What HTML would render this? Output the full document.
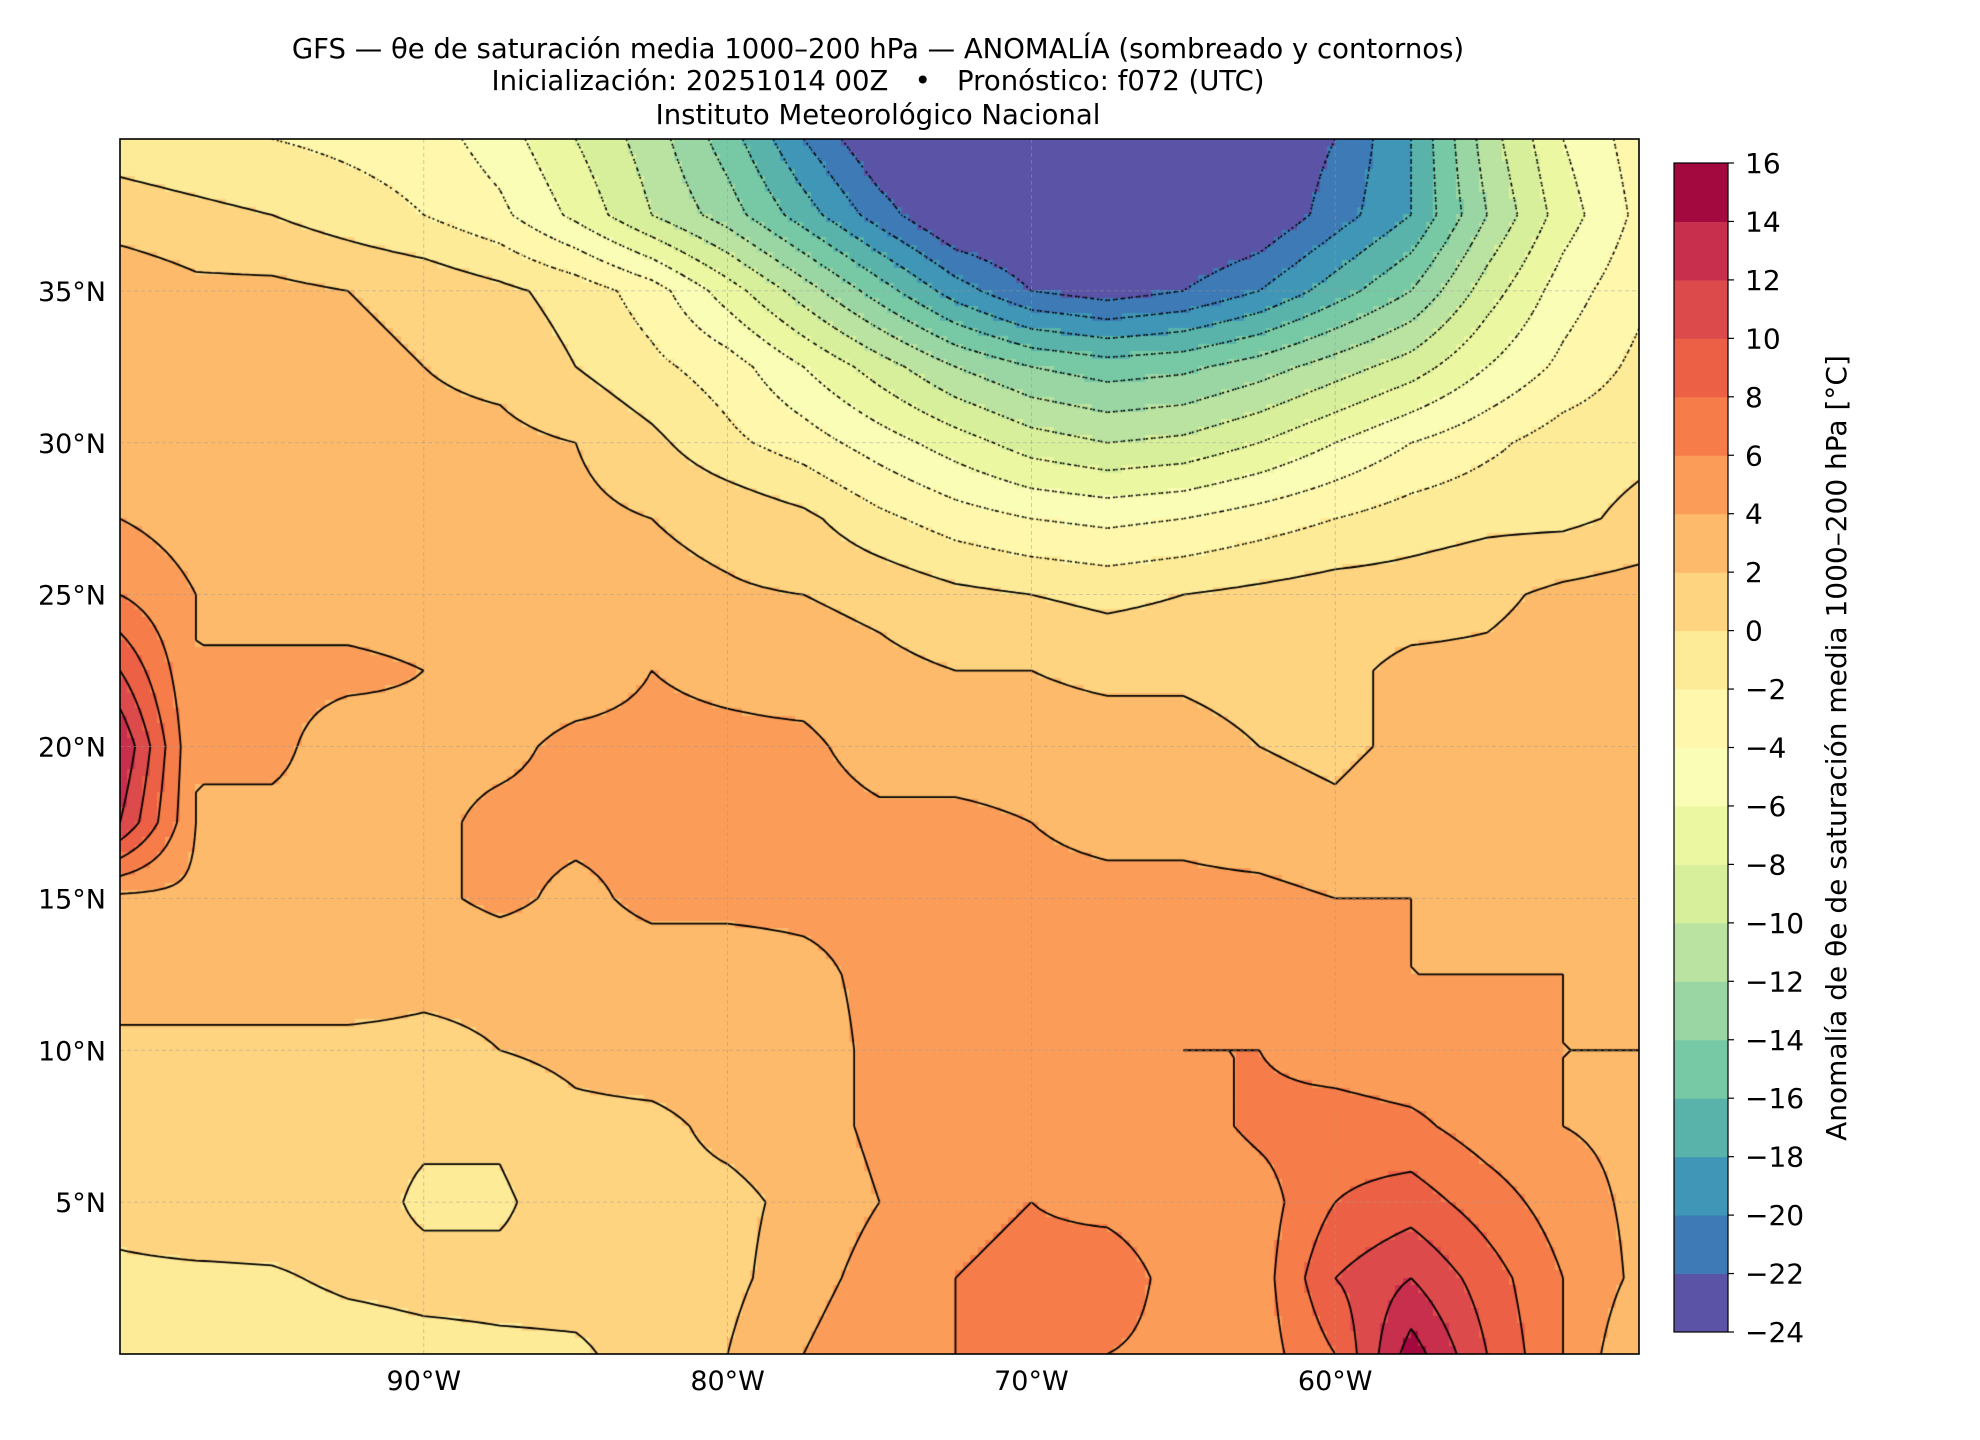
<!DOCTYPE html>
<html><head><meta charset="utf-8"><style>
body{margin:0;background:#fff;width:1980px;height:1440px;position:relative;overflow:hidden;font-family:"DejaVu Sans","Liberation Sans",sans-serif;}
.t{position:absolute;left:0;width:1756px;text-align:center;font-size:27.5px;color:#000;line-height:32px;}
</style></head><body>
<div class="t" style="top:33px">GFS — θe de saturación media 1000–200 hPa — ANOMALÍA (sombreado y contornos)</div>
<div class="t" style="top:65px">Inicialización: 20251014 00Z &nbsp; • &nbsp; Pronóstico: f072 (UTC)</div>
<div class="t" style="top:99px">Instituto Meteorológico Nacional</div>
<canvas id="map" width="1519" height="1215" style="position:absolute;left:120px;top:139px"></canvas>
<svg id="ov" width="1980" height="1440" style="position:absolute;left:0;top:0"></svg>
<script>
const lons=[-100,-97.5,-95,-92.5,-90,-87.5,-85,-82.5,-80,-77.5,-75,-72.5,-70,-67.5,-65,-62.5,-60,-57.5,-55,-52.5,-50];
const lats=[40,37.5,35,32.5,30,27.5,25,22.5,20,17.5,15,12.5,10,7.5,5,2.5,0];
const row40=[-1,-1.5,-2,-2.5,-3,-5,-8,-11,-15,-20,-24,-25,-25.5,-26,-25,-24,-22,-18,-11,-6,-3];
const row375=[1,0.5,0,-1,-2,-3.5,-6.5,-10,-13,-17,-21,-24.5,-25,-25.5,-25,-24,-21,-18,-12,-7,-3.5];
const row35=[3.5,2.5,2.5,2,1.5,0.5,-0.8,-3,-7,-11,-15,-19,-22,-23,-22,-20,-17,-14,-9,-5,-2.5];
const row325=[3,2.5,2.5,2.5,2,1.5,0,-1.5,-3,-6,-9,-12,-14,-15,-14.5,-13,-11,-9,-6,-3.5,-1.5];
const row30=[3,3,2.5,2.5,2.5,2.5,2,0.5,-1.5,-3,-5,-7,-9,-10,-9.5,-8,-6,-4,-2.5,-1,-0.5];
const row275=[4,3,3,3,3,2.5,2.5,2,1.5,0.5,-1.5,-3,-4,-4.5,-4,-3,-2,-1,-0.5,-0.5,0.5];
const row25=[6,4,3,3,3,2.5,2.5,2.5,2.2,2,1.5,0.5,0,-0.5,0,0.5,1,1,1.5,2.5,3];
const row225=[10,4,4.5,4.5,4,3,3,4,3.5,3,2.5,2,2,1.5,1.5,1,1.5,2.5,2.5,3,3];
const row20=[14,4,4.5,3,3.5,3.5,4.5,4.5,4.5,4.5,3,3,3,3,3,2,1.5,2.5,3,3.5,3.5];
const row175=[12,4,3.5,3.5,3.5,4.5,4.5,4.5,5,5,4.5,4.5,4,3.5,3.5,3,2.5,3.5,3.5,3.5,3.5];
const row15=[3.5,3.5,3.5,3,3.5,4.5,3.5,4.5,4.5,4.5,4.5,4.5,4.5,4.5,4.5,4.5,4,4,3.5,3.5,3.5];
const row125=[3,3,3,3,2.5,2.5,3,3,3,3.5,4.5,4.5,4.5,4.5,4.5,4.5,4.5,4,4,4,3.5];
const row10=[1.5,1.5,1.5,1.5,1.5,2,2.5,3,3,3,4.5,4.5,4.5,5,6,6,5,4.5,4.5,4,4];
const row75=[1,1,1,0.5,0.3,0.3,1.5,1.5,2.5,3,4.5,5,5,6,5,6.5,7,6.5,5,4,3.5];
const row5=[0.5,1,1,0.8,-0.3,-0.3,1,1.5,1.5,2.5,4,5,6,5,4,5,8,9,7,5,3.5];
const row25s=[-0.3,-0.3,-0.2,0.3,0.5,0.5,0.5,0.5,1.5,3,5,6,7,8,4.5,5,10,12,9,6,3.5];
const row0=[-1,-1,-1,-0.8,-0.5,-0.3,-0.2,0.5,2,4,6,6,7,6,5,5,8,15,10,6,2];
const grid=[row40,row375,row35,row325,row30,row275,row25,row225,row20,row175,row15,row125,row10,row75,row5,row25s,row0];
const levels=[-24,-22,-20,-18,-16,-14,-12,-10,-8,-6,-4,-2,0,2,4,6,8,10,12,14,16];
const colors=["#5a53a6","#3d7ab6","#3f96b7","#59b3ab","#77c9a5","#9ad6a4","#bae3a1","#d7ef9b","#ecf7a2","#f9fdb5","#fff8ac","#feeb98","#fed481","#fdba6b","#fb9d59","#f67d4a","#ec6146","#dd4a4c","#c72f4c","#a3083f"];

const L=120,T=139,W=1519,H=1215,lon0=-100,lon1=-50,lat0=0,lat1=40;
const xS=lo=>L+(lo-lon0)/(lon1-lon0)*W;
const yS=la=>T+(lat1-la)/(lat1-lat0)*H;
function field(lo,la){
  let fi=(lo-lons[0])/2.5, fj=(lats[0]-la)/2.5;
  fi=Math.max(0,Math.min(lons.length-1.0001,fi)); fj=Math.max(0,Math.min(lats.length-1.0001,fj));
  const i=Math.floor(fi),j=Math.floor(fj),A=fi-i,B=fj-j;
  return grid[j][i]*(1-A)*(1-B)+grid[j][i+1]*A*(1-B)+grid[j+1][i]*(1-A)*B+grid[j+1][i+1]*A*B;
}
function colorOf(v){let k=Math.floor((v-levels[0])/2);k=Math.max(0,Math.min(colors.length-1,k));return colors[k];}
const cv=document.getElementById('map'),ctx=cv.getContext('2d');
const res=0.25,nx=(lon1-lon0)/res,ny=(lat1-lat0)/res;
const F=[];
for(let j=0;j<=ny;j++){F.push([]);for(let i=0;i<=nx;i++)F[j].push(field(lon0+i*res,lat1-j*res));}
for(let j=0;j<ny;j++)for(let i=0;i<nx;i++){
  const lo=lon0+(i+0.5)*res,la=lat1-(j+0.5)*res;
  ctx.fillStyle=colorOf(field(lo,la));
  const x0=xS(lon0+i*res)-L,y0=yS(lat1-j*res)-T,x1=xS(lon0+(i+1)*res)-L,y1=yS(lat1-(j+1)*res)-T;
  ctx.fillRect(Math.floor(x0),Math.floor(y0),Math.ceil(x1-x0)+1,Math.ceil(y1-y0)+1);
}
ctx.strokeStyle="#000";
for(const lev of levels){
  if(lev<=-24||lev>=16)continue;
  ctx.beginPath();
  for(let j=0;j<ny;j++)for(let i=0;i<nx;i++){
    const c=[[i,j],[i+1,j],[i+1,j+1],[i,j+1]];
    const pts=[];
    for(let e=0;e<4;e++){
      const p=c[e],q=c[(e+1)%4];const va=F[p[1]][p[0]],vb=F[q[1]][q[0]];
      if((va<lev)!==(vb<lev)){const t=(lev-va)/(vb-va);
        const gi=p[0]+t*(q[0]-p[0]),gj=p[1]+t*(q[1]-p[1]);
        pts.push([xS(lon0+gi*res)-L,yS(lat1-gj*res)-T]);}
    }
    for(let k=0;k+1<pts.length;k+=2){ctx.moveTo(pts[k][0],pts[k][1]);ctx.lineTo(pts[k+1][0],pts[k+1][1]);}
  }
  if(lev<0){ctx.setLineDash([2,3]);ctx.lineWidth=1.6;}else{ctx.setLineDash([]);ctx.lineWidth=1.8;}
  ctx.stroke();
}
ctx.setLineDash([]);
const svg=document.getElementById('ov'),NS="http://www.w3.org/2000/svg";
function mk(tag,attrs,txt){const e=document.createElementNS(NS,tag);for(const k in attrs)e.setAttribute(k,attrs[k]);if(txt!==undefined)e.textContent=txt;svg.appendChild(e);return e;}
const FF='DejaVu Sans, Liberation Sans, sans-serif';
const lonTicks=[-90,-80,-70,-60],lonLabels=["90°W","80°W","70°W","60°W"];
const latTicks=[35,30,25,20,15,10,5],latLabels=["35°N","30°N","25°N","20°N","15°N","10°N","5°N"];
lonTicks.forEach((v,k)=>{
  const g=mk('line',{x1:xS(v),x2:xS(v),y1:T,y2:T+H,stroke:"#999",'stroke-width':0.8,'stroke-dasharray':"4,3",opacity:0.6});
  
  const t=mk('text',{x:xS(v),y:1390,'font-size':27,'text-anchor':'middle','font-family':FF},lonLabels[k]);
  
});
latTicks.forEach((v,k)=>{
  const g=mk('line',{x1:L,x2:L+W,y1:yS(v),y2:yS(v),stroke:"#999",'stroke-width':0.8,'stroke-dasharray':"4,3",opacity:0.6});
  
  const t=mk('text',{x:106,y:yS(v)+10,'font-size':27,'text-anchor':'end','font-family':FF},latLabels[k]);
  
});
const fr=mk('rect',{x:L,y:T,width:W,height:H,fill:'none',stroke:'#000','stroke-width':1.6});

const cbX=1674,cbW=54,cbT=163,cbB=1332;
const cbY=v=>cbB-(v-levels[0])/(levels[levels.length-1]-levels[0])*(cbB-cbT);
colors.forEach((c,k)=>{
  const r=mk('rect',{x:cbX,y:cbY(levels[k+1]),width:cbW,height:cbY(levels[k])-cbY(levels[k+1])+0.5,fill:c});
  
});
const cf=mk('rect',{x:cbX,y:cbT,width:cbW,height:cbB-cbT,fill:'none',stroke:'#000','stroke-width':1.2});

levels.forEach(v=>{
  const tk=mk('line',{x1:cbX+cbW,x2:cbX+cbW+6,y1:cbY(v),y2:cbY(v),stroke:'#000','stroke-width':1.2});
  
  const t=mk('text',{x:1745,y:cbY(v)+10,'font-size':28,'font-family':FF},(v<0?'−':'')+Math.abs(v));
  
});
const cl=mk('text',{x:0,y:0,'font-size':28,'text-anchor':'middle','font-family':FF,transform:'translate(1846,748) rotate(-90)'},'Anomalía de θe de saturación media 1000–200 hPa [°C]');

</script>
</body></html>
